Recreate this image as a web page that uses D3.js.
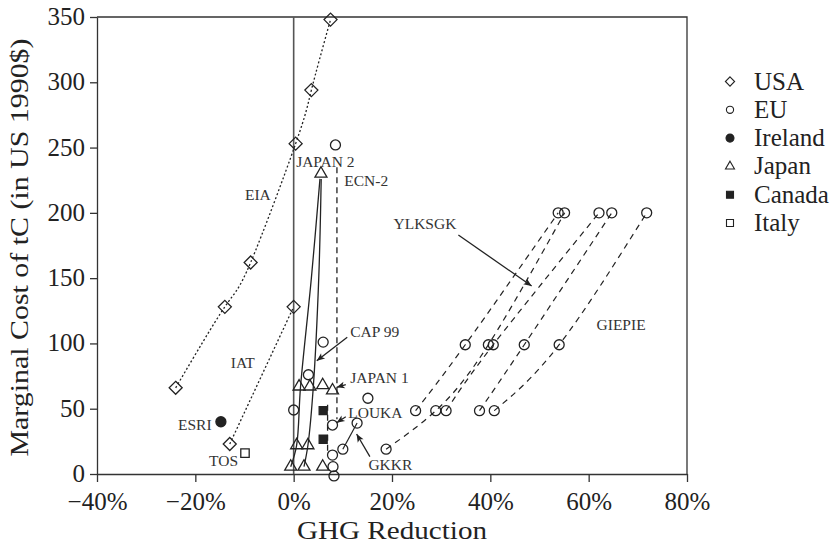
<!DOCTYPE html>
<html>
<head>
<meta charset="utf-8">
<script src="https://cdn.jsdelivr.net/npm/d3@7/dist/d3.min.js"></script>
<style>
  html, body { margin: 0; padding: 0; background: #fff; }
  svg { display: block; }
  svg text { font-family: "Liberation Serif", "Times New Roman", serif; }
</style>
</head>
<body>
<svg id="chart" width="838" height="546"></svg>
<script>
// ---- data ------------------------------------------------------------
const xTicks = [-40, -20, 0, 20, 40, 60, 80];
const yTicks = [0, 50, 100, 150, 200, 250, 300, 350];

// USA (diamonds): EIA curve and IAT curve
const usaEIA = [[-24.0, 66], [-14.0, 128], [-8.75, 162], [0.4, 253], [3.6, 294], [7.5, 348]];
const usaIAT = [[-13.0, 23], [0.0, 128]];

// EU (open circles)
const euSingles = [[0.0, 49], [3.0, 76], [6.0, 101], [8.5, 252], [15.1, 58], [12.9, 39], [10.0, 19],
                   [7.9, 37.5], [7.9, 14.5], [8.0, 5.6], [8.2, -1.5]];
const euGKKR = [[10.0, 19], [12.9, 39]];
const euCurve1 = [[24.8, 48.5], [34.9, 99], [53.8, 200]];
const euCurve2 = [[18.8, 19], [28.9, 48.5], [39.6, 99], [55.1, 200]];
const euCurve3 = [[31.0, 48.5], [40.6, 99], [62.1, 200]];
const euCurve4 = [[37.8, 48.5], [46.9, 99], [64.7, 200]];
const euCurve5 = [[40.8, 48.5], [54.0, 99], [71.8, 200]];
const euCurves = [euCurve1, euCurve2, euCurve3, euCurve4, euCurve5];
const ecn2Line = [[8.8, 235], [8.8, 42]];

// Ireland (filled circle)
const irelandPoints = [[-14.8, 40]];

// Japan (open triangles) and the two Japan model curves
const japanPoints = [[5.55, 230], [1.1, 67], [3.3, 67], [5.9, 68], [7.9, 64],
                     [0.6, 22], [2.9, 22], [-0.6, 5.6], [2.1, 5.6], [5.9, 5.6]];
const japanCurveA = [[-0.6, 5.6], [0.6, 22], [1.4, 67], [3.6, 150], [5.35, 226]];
const japanCurveB = [[2.1, 5.6], [2.9, 22], [4.0, 67], [5.1, 150], [5.6, 226]];

// Canada (filled squares)
const canadaPoints = [[6.0, 48.5], [6.0, 26.6]];
const canadaLine = [[6.9, 53], [6.9, 15]];

// Italy (open square)
const italyPoints = [[-9.9, 16]];

// Study labels: [text, x, y, anchor]
const labels = [
  ["EIA", -9.9, 210, "start"],
  ["IAT", -12.8, 81, "start"],
  ["ESRI", -16.7, 34, "end"],
  ["TOS", -11.3, 6, "end"],
  ["JAPAN 2", 0.5, 235, "start"],
  ["ECN-2", 10.3, 220.5, "start"],
  ["CAP 99", 11.5, 105, "start"],
  ["JAPAN 1", 11.5, 69.5, "start"],
  ["LOUKA", 11.1, 43, "start"],
  ["GKKR", 15.2, 3, "start"],
  ["YLKSGK", 20.3, 187.5, "start"],
  ["GIEPIE", 61.6, 110, "start"]
];

// Pointer arrows: [x1, y1, x2, y2] (tail to head)
const arrows = [
  [33.5, 183, 48.4, 144],
  [10.9, 104.7, 4.7, 86.8],
  [10.6, 68.4, 8.75, 66.4],
  [10.6, 43.9, 8.75, 39.3],
  [15.5, 13.3, 12.8, 30.6]
];

const legendItems = ["USA", "EU", "Ireland", "Japan", "Canada", "Italy"];

// ---- layout ----------------------------------------------------------
const FONT = "Liberation Serif";
const svg = d3.select("#chart").attr("font-family", FONT);
const ink = "#222";
const x = d3.scaleLinear().domain([-40, 80]).range([97, 687]);
const y = d3.scaleLinear().domain([0, 350]).range([474, 17]);

// arrowhead marker
const defs = svg.append("defs");
defs.append("marker")
  .attr("id", "head")
  .attr("viewBox", "0 0 10 10")
  .attr("refX", 10).attr("refY", 5)
  .attr("markerUnits", "userSpaceOnUse")
  .attr("markerWidth", 11).attr("markerHeight", 8)
  .attr("orient", "auto")
  .append("path").attr("d", "M0,0.8 L10,5 L0,9.2 L2.5,5 z").attr("fill", ink);

// symbol shapes
function shape(kind, s) {
  switch (kind) {
    case "diamond": return `M0,${-s}L${s},0L0,${s}L${-s},0Z`;
    case "circle": return `M${s},0A${s},${s} 0 1,1 ${-s},0A${s},${s} 0 1,1 ${s},0Z`;
    case "triangle": { const h = s * Math.sqrt(3) / 2; return `M0,${-h * 2 / 3}L${s / 2},${h / 3}L${-s / 2},${h / 3}Z`; }
    case "square": return `M${-s},${-s}H${s}V${s}H${-s}Z`;
  }
}

// axes
const yAxis = svg.append("g")
  .attr("transform", `translate(${x(-40)},0)`)
  .call(d3.axisLeft(y).tickValues(yTicks).tickSize(7).tickSizeOuter(0).tickPadding(5));
const xAxis = svg.append("g")
  .attr("transform", `translate(0,${y(0)})`)
  .call(d3.axisBottom(x).tickValues(xTicks).tickSize(8).tickSizeOuter(0).tickPadding(10)
    .tickFormat(d => (d < 0 ? "\u2212" : "") + Math.abs(d) + "%"));
[yAxis, xAxis].forEach(g => {
  g.attr("font-family", FONT).attr("font-size", 25);
  g.selectAll("path, line").attr("stroke", "#333").attr("stroke-width", 1.3);
  g.selectAll("text").attr("fill", ink);
});
yAxis.selectAll("text").attr("dy", "0.3em");

// frame: top and right edges
svg.append("path")
  .attr("d", `M${x(-40)},${y(350)}H${x(80)}V${y(0)}`)
  .attr("fill", "none").attr("stroke", "#333").attr("stroke-width", 1.3);

// zero line
svg.append("line")
  .attr("x1", x(0)).attr("x2", x(0)).attr("y1", y(350)).attr("y2", y(0))
  .attr("stroke", "#555").attr("stroke-width", 1.6);

// axis titles (set in a slightly extended face)
svg.append("text")
  .attr("x", (x(-40) + x(80)) / 2).attr("y", 538.5)
  .attr("text-anchor", "middle").attr("fill", ink)
  .attr("font-size", 26)
  .attr("textLength", 190).attr("lengthAdjust", "spacingAndGlyphs")
  .text("GHG Reduction");
svg.append("text")
  .attr("transform", `translate(28,${(y(0) + y(350)) / 2 + 2}) rotate(-90)`)
  .attr("text-anchor", "middle").attr("fill", ink)
  .attr("font-size", 26)
  .attr("textLength", 418).attr("lengthAdjust", "spacingAndGlyphs")
  .text("Marginal Cost of tC (in US 1990$)");

// ---- lines -----------------------------------------------------------
const smooth = d3.line().x(d => x(d[0])).y(d => y(d[1])).curve(d3.curveNatural);
const straight = d3.line().x(d => x(d[0])).y(d => y(d[1]));
const plot = svg.append("g");

plot.append("path").attr("d", smooth(usaEIA))
  .attr("fill", "none").attr("stroke", ink).attr("stroke-width", 1.3).attr("stroke-dasharray", "2,2.2");
plot.append("path").attr("d", straight(usaIAT))
  .attr("fill", "none").attr("stroke", ink).attr("stroke-width", 1.3).attr("stroke-dasharray", "2,2.2");

euCurves.forEach(c => {
  plot.append("path").attr("d", smooth(c))
    .attr("fill", "none").attr("stroke", ink).attr("stroke-width", 1.2).attr("stroke-dasharray", "6,5");
});
plot.append("path").attr("d", straight(ecn2Line))
  .attr("fill", "none").attr("stroke", ink).attr("stroke-width", 1.3).attr("stroke-dasharray", "6,4");
plot.append("path").attr("d", straight(canadaLine))
  .attr("fill", "none").attr("stroke", ink).attr("stroke-width", 1.3).attr("stroke-dasharray", "6,4");
plot.append("path").attr("d", straight(euGKKR))
  .attr("fill", "none").attr("stroke", ink).attr("stroke-width", 1.2);

const smoothJ = d3.line().x(d => x(d[0])).y(d => y(d[1])).curve(d3.curveCatmullRom);
[japanCurveA, japanCurveB].forEach(c => {
  plot.append("path").attr("d", smoothJ(c))
    .attr("fill", "none").attr("stroke", ink).attr("stroke-width", 1.3);
});

// arrows
arrows.forEach(a => {
  plot.append("line")
    .attr("x1", x(a[0])).attr("y1", y(a[1])).attr("x2", x(a[2])).attr("y2", y(a[3]))
    .attr("stroke", ink).attr("stroke-width", 1.3).attr("marker-end", "url(#head)");
});

// ---- markers ---------------------------------------------------------
function drawPoints(pts, kind, size, filled) {
  plot.selectAll(null).data(pts).join("path")
    .attr("transform", d => `translate(${x(d[0])},${y(d[1])})`)
    .attr("d", shape(kind, size))
    .attr("fill", filled ? ink : "none")
    .attr("stroke", ink).attr("stroke-width", 1.3);
}
drawPoints(usaEIA, "diamond", 6.5, false);
drawPoints(usaIAT, "diamond", 6.5, false);
drawPoints(euSingles, "circle", 5, false);
euCurves.forEach(c => drawPoints(c, "circle", 5, false));
drawPoints(irelandPoints, "circle", 5, true);
drawPoints(japanPoints, "triangle", 12, false);
drawPoints(canadaPoints, "square", 4, true);
drawPoints(italyPoints, "square", 4.2, false);

// ---- labels ----------------------------------------------------------
plot.selectAll(null).data(labels).join("text")
  .attr("x", d => x(d[1])).attr("y", d => y(d[2]))
  .attr("text-anchor", d => d[3])
  .attr("fill", "#333").attr("font-size", 15.5)
  .text(d => d[0]);

// ---- legend ----------------------------------------------------------
const legendKinds = [["diamond", 4.6, false], ["circle", 3.6, false], ["circle", 4, true],
                     ["triangle", 9, false], ["square", 3.5, true], ["square", 3.5, false]];
const legend = svg.append("g");
legendItems.forEach((name, i) => {
  const cy = 81.5 + i * 28.3;
  const k = legendKinds[i];
  legend.append("path")
    .attr("transform", `translate(730,${cy})`)
    .attr("d", shape(k[0], k[1]))
    .attr("fill", k[2] ? ink : "none").attr("stroke", ink).attr("stroke-width", 1.1);
  legend.append("text")
    .attr("x", 754).attr("y", cy + 8)
    .attr("fill", ink).attr("font-size", 25).text(name);
});
</script>
</body>
</html>
